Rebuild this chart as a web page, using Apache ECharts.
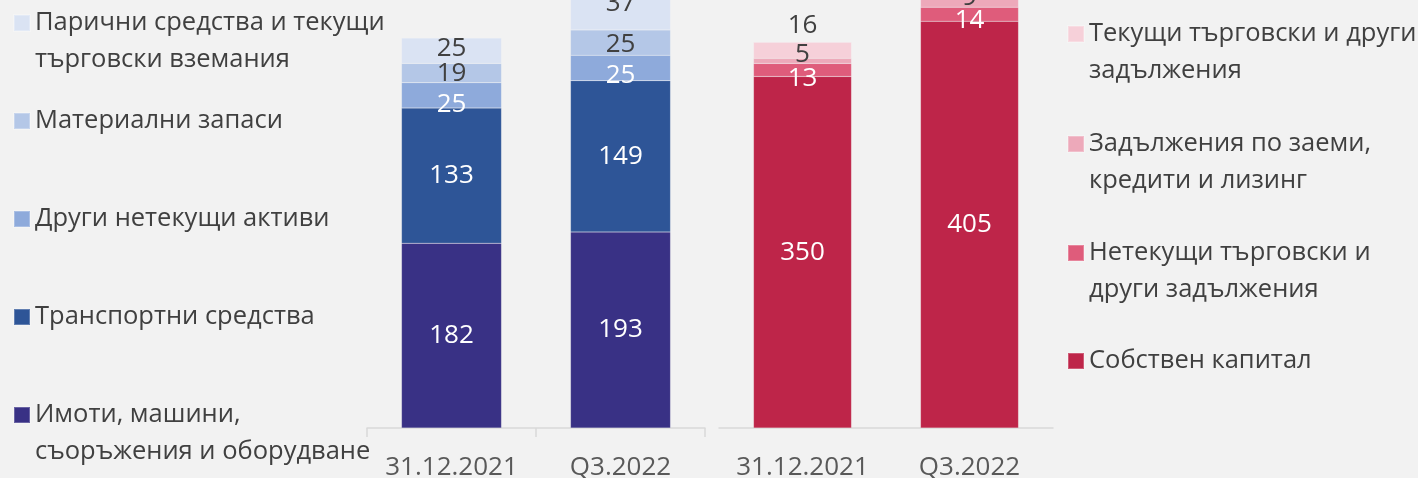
<!DOCTYPE html>
<html>
<head>
<meta charset="utf-8">
<script src="https://cdn.jsdelivr.net/npm/echarts@6/dist/echarts.min.js"></script>
<style>
html,body{margin:0;padding:0;background:#f2f2f2;}
#c{width:1418px;height:478px;}
</style>
</head>
<body>
<div id="c"></div>
<script>
// ---- DATA ----
const categories = ['31.12.2021', 'Q3.2022'];
const assetNames = [
  'Имоти, машини, съоръжения и оборудване',
  'Транспортни средства',
  'Други нетекущи активи',
  'Материални запаси',
  'Парични средства и текущи търговски вземания'
];
const ppe = [182, 193];
const transport = [133, 149];
const otherNonCurrent = [25, 25];
const inventories = [19, 25];
const cashReceivables = [25, 37];

const liabNames = [
  'Собствен капитал',
  'Нетекущи търговски и други задължения',
  'Задължения по заеми, кредити и лизинг',
  'Текущи търговски и други задължения'
];
const equity = [350, 405];
const nonCurrentPayables = [13, 14];
const loans = [5, 9];
const currentPayables = [16, 1];

// legend display text (line breaks)
const legendText = {
  'Имоти, машини, съоръжения и оборудване': 'Имоти, машини,\nсъоръжения и оборудване',
  'Транспортни средства': 'Транспортни средства',
  'Други нетекущи активи': 'Други нетекущи активи',
  'Материални запаси': 'Материални запаси',
  'Парични средства и текущи търговски вземания': 'Парични средства и текущи\nтърговски вземания',
  'Собствен капитал': 'Собствен капитал',
  'Нетекущи търговски и други задължения': 'Нетекущи търговски и\nдруги задължения',
  'Задължения по заеми, кредити и лизинг': 'Задължения по заеми,\nкредити и лизинг',
  'Текущи търговски и други задължения': 'Текущи търговски и други\nзадължения'
};

// ---- STYLE ----
const FONT = 'Open Sans';
const DARK = '#404040';
const assetValues = [ppe, transport, otherNonCurrent, inventories, cashReceivables];
const assetColors = ['#393185', '#2e5597', '#8eaadb', '#b4c7e7', '#dae3f3'];
const assetLabelColors = ['#fff', '#fff', '#fff', DARK, DARK];
const assetOffsets = [[[0,0],[0,0]], [[0,0],[0,0]], [[0,9],[0,8]], [[0,1],[0,2]], [[0,-2],[0,-8]]];

const liabValues = [equity, nonCurrentPayables, loans, currentPayables];
const liabColors = ['#be2549', '#df5c7b', '#eda9ba', '#f6d0d9'];
const liabLabelColors = ['#fff', '#fff', DARK, DARK];
const liabOffsets = [[[0,0],[0,0]], [[0,9],[0,6]], [[0,-6],[0,-5]], [[0,0],[0,0]]];
const liabPos = ['inside', 'inside', 'inside', 'top'];

function mkSeries(name, vals, color, lc, offs, pos, axisIdx, stack, bw) {
  return {
    type: 'bar', name: name, stack: stack,
    xAxisIndex: axisIdx, yAxisIndex: axisIdx,
    barWidth: bw, clip: false,
    itemStyle: { color: color, borderColor: 'rgba(255,255,255,0.25)', borderWidth: 0.5 },
    label: { show: true, position: pos, color: lc, fontFamily: FONT, fontSize: 26, distance: 4 },
    data: vals.map((v, i) => ({ value: v, label: { offset: offs[i] } }))
  };
}

const series = [];
assetNames.forEach((n, k) => series.push(mkSeries(n, assetValues[k], assetColors[k], assetLabelColors[k], assetOffsets[k], 'inside', 0, 'a', 100)));
liabNames.forEach((n, k) => series.push(mkSeries(n, liabValues[k], liabColors[k], liabLabelColors[k], liabOffsets[k], liabPos[k], 1, 'l', 98)));

const L = 37;
function mkLegend(name, left, centerY) {
  const text = legendText[name];
  const twoLine = text.indexOf('\n') >= 0;
  return {
    data: [name], left: left, top: twoLine ? centerY - 1.5 * L : centerY - L / 2,
    orient: 'vertical', padding: 0, itemWidth: 16, itemHeight: 16, icon: 'rect',
    selectedMode: false,
    formatter: n => (legendText[n].indexOf('\n') >= 0 ? ' \n' : '') + legendText[n],
    textStyle: { fontFamily: FONT, fontSize: 25.5, color: DARK, lineHeight: L }
  };
}
const leftLegendY = [415, 317, 219, 121, 23];
const rightLegendY = [361, 253, 144, 34];
const legends = [];
assetNames.forEach((n, k) => legends.push(mkLegend(n, 13, leftLegendY[k])));
liabNames.forEach((n, k) => legends.push(mkLegend(n, 1067, rightLegendY[k])));

const xCommon = {
  type: 'category', data: categories,
  axisLabel: { fontFamily: FONT, fontSize: 26, color: '#595959', margin: 27, interval: 0 },
};

const option = {
  backgroundColor: '#f2f2f2',
  animation: false,
  legend: legends,
  grid: [
    { left: 367, width: 338, top: -29, height: 457, outerBoundsMode: 'none', containLabel: false },
    { left: 719, width: 334, top: -24, height: 452, outerBoundsMode: 'none', containLabel: false }
  ],
  xAxis: [
    Object.assign({}, xCommon, { gridIndex: 0,
      axisLine: { lineStyle: { color: '#d9d9d9', width: 1.5 } },
      axisTick: { show: true, length: 9, lineStyle: { color: '#d9d9d9', width: 1.5 } } }),
    Object.assign({}, xCommon, { gridIndex: 1,
      axisLine: { lineStyle: { color: '#d9d9d9', width: 1.5 } },
      axisTick: { show: false } })
  ],
  yAxis: [
    { type: 'value', gridIndex: 0, min: 0, max: 450, show: false, splitLine: { show: false } },
    { type: 'value', gridIndex: 1, min: 0, max: 450, show: false, splitLine: { show: false } }
  ],
  series: series
};

const chart = echarts.init(document.getElementById('c'));
chart.setOption(option);
</script>
</body>
</html>
